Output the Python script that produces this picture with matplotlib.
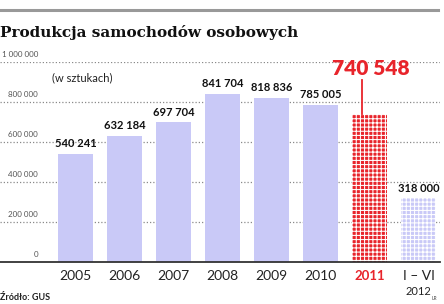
import numpy as np
import matplotlib.pyplot as plt

# data
years = ["2005", "2006", "2007", "2008", "2009", "2010", "2011", "I – VI"]
values = [540241, 632184, 697704, 841704, 818836, 785005, 740548, 318000]
value_labels = ["540 241", "632 184", "697 704", "841 704", "818 836",
                "785 005", "740 548", "318 000"]
yticks = [0, 200000, 400000, 600000, 800000, 1000000]
ytick_labels = ["0", "200 000", "400 000", "600 000", "800 000", "1 000 000"]

lav = "#c9c9f7"
red = "#e8242b"
font = "Lato"
plt.rcParams["hatch.linewidth"] = 0.75

fig = plt.figure(figsize=(4.44, 3.04), dpi=100)
# axes: x px 0..440, baseline at y=262, 1 000 000 at y=62
ax = fig.add_axes([0, (304 - 262) / 304, 440 / 444, 200 / 304])
x = np.arange(len(values))
ax.set_xlim(-75.5 / 49, (440 - 75.5) / 49)
ax.set_ylim(0, 1000000)

# grid
for t in yticks[1:]:
    ax.axhline(t, color="#8a8a8a", lw=0.9, ls=(0, (1, 1.6)), zorder=1)

colors = [lav] * 6 + [red, lav]
bars = ax.bar(x, values, width=35 / 49, color=colors, zorder=2, linewidth=0)
for b in bars[6:]:
    b.set_edgecolor("white")
    b.set_hatch("++++")
    b.set_linewidth(0)

for s in ["top", "left", "right"]:
    ax.spines[s].set_visible(False)
ax.spines["bottom"].set_color("#333333")
ax.spines["bottom"].set_linewidth(1.3)
ax.spines["bottom"].set_zorder(3)
ax.set_yticks([])
ax.set_xticks(x)
ax.set_xticklabels([])
ax.tick_params(axis="x", length=0)

# y tick labels inside
for t, lab in zip(yticks, ytick_labels):
    ax.annotate(lab, ((38 - 75.5) / 49, t), xytext=(0, 3),
                textcoords="offset points", ha="right", va="bottom",
                fontsize=5.8, color="#555555", family=font)

# x labels
for i, y in enumerate(years):
    if i == 6:
        ax.annotate(y, (i, 0), xytext=(0, -6), textcoords="offset points",
                    ha="center", va="top", fontsize=9.5, color=red,
                    fontweight="bold", family=font)
    else:
        ax.annotate(y, (i, 0), xytext=(0, -6), textcoords="offset points",
                    ha="center", va="top", fontsize=10, color="#222222",
                    family=font)
ax.annotate("2012", (7, 0), xytext=(0, -17), textcoords="offset points",
            ha="center", va="top", fontsize=8, color="#222222", family=font)

# value labels
for i, (v, lab) in enumerate(zip(values, value_labels)):
    if i == 6:
        continue
    ax.annotate(lab, (i, v), xytext=(0, 3.5), textcoords="offset points",
                ha="center", va="bottom", fontsize=8, fontweight="bold",
                color="#111111", family=font)

# highlighted 2011 value
ax.annotate(value_labels[6], (6, values[6]), xytext=(1, 26),
            textcoords="offset points", ha="center", va="bottom",
            fontsize=15, fontweight="heavy", color=red, family=font)
lx = (362 - 75.5) / 49
ax.plot([lx, lx], [values[6], 910000], color=red, lw=1.3, zorder=3,
        clip_on=False)

ax.text(52 / 440, (262 - 78) / 200, "(w sztukach)",
        transform=ax.transAxes, fontsize=8, color="#222222", family=font,
        va="center", ha="left")

# header, footer
fig.add_artist(plt.Line2D([0, 438 / 444], [1 - 10 / 304] * 2, color="#999999",
                          lw=2.2))
fig.text(0, 1 - 32 / 304, "Produkcja samochodów osobowych", fontsize=11,
         fontweight="bold", family="DejaVu Serif", va="center", ha="left",
         color="#111111")
fig.text(0, 1 - 298 / 304, "Źródło: GUS", fontsize=6.5, fontweight="bold",
         family=font, va="center", ha="left", color="#222222")
fig.text(437 / 444, 1 - 299 / 304, "LR", fontsize=3.5, family=font,
         va="center", ha="right", color="#444444")

fig.savefig("out.png", dpi=100)
